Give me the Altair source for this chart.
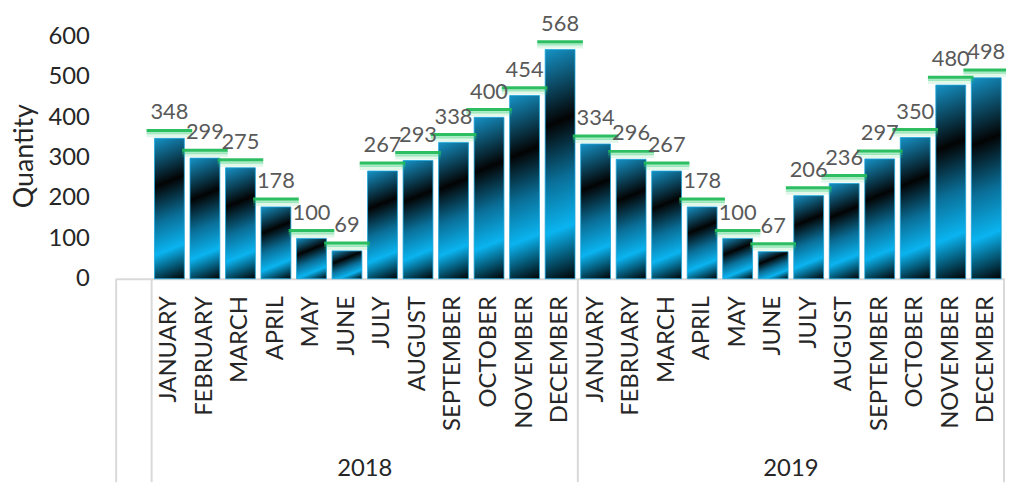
import altair as alt
import pandas as pd

# ---------------- data ----------------
months = ["JANUARY", "FEBRUARY", "MARCH", "APRIL", "MAY", "JUNE", "JULY",
          "AUGUST", "SEPTEMBER", "OCTOBER", "NOVEMBER", "DECEMBER"]
years = ["2018", "2019"]
q2018 = [348, 299, 275, 178, 100, 69, 267, 293, 338, 400, 454, 568]
q2019 = [334, 296, 267, 178, 100, 67, 206, 236, 297, 350, 480, 498]
y_ticks = [0, 100, 200, 300, 400, 500, 600]

# ---------------- layout constants ----------------
W, H = 895, 244
YMAX = 600
P_IN, P_OUT = 0.16, 0.08
FONT = "Lato"

blank = " "
keys = [blank] + [f"{y}|{m}" for y in years for m in months]
rows = []
for y, vals in zip(years, [q2018, q2019]):
    for m, v in zip(months, vals):
        rows.append({"key": f"{y}|{m}", "year": y, "month": m, "value": v})
df = pd.DataFrame(rows)

step = W / (len(keys) - P_IN + 2 * P_OUT)
bw = step * (1 - P_IN)
half_gap = step * P_IN / 2
px_per_unit = H / YMAX

xscale = alt.Scale(domain=keys, paddingInner=P_IN, paddingOuter=P_OUT)
yscale = alt.Scale(domain=[0, YMAX], nice=False)

x_axis = alt.Axis(
    title=None, labelAngle=-90, labelAlign="right", labelBaseline="middle",
    labelExpr="indexof(datum.value, '|') >= 0 ? split(datum.value, '|')[1] : ''",
    ticks=False, domainColor="#d9d9d9", domainWidth=2, labelPadding=17,
    labelFontSize=24, labelColor="#262626", labelFont=FONT,
    labelOverlap=False, labelBound=False, labelLimit=300, grid=False,
)
y_axis = alt.Axis(
    title="Quantity", values=y_ticks, grid=False, domain=False, ticks=False,
    labelPadding=27, labelFontSize=24, labelColor="#262626", labelFont=FONT,
    titleFontSize=27, titleFont=FONT, titleFontWeight="normal",
    titleColor="#262626", titleAngle=-90, titleX=-92, titleY=H / 2 - 2,
    titleAlign="center", titleBaseline="middle",
)


def X(**kw):
    return alt.X("key:N", scale=xscale, axis=x_axis, sort=keys, **kw)


Y = alt.Y("value:Q", scale=yscale, axis=y_axis)

stops = [
    {"offset": 0.0, "color": "#1592c6"},
    {"offset": 0.32, "color": "#030303"},
    {"offset": 0.56, "color": "#0a6f98"},
    {"offset": 0.77, "color": "#0ab4f0"},
    {"offset": 1.0, "color": "#000000"},
]
SLOPE = 0.4

base = alt.Chart(df)
layers = []
for i, r in df.iterrows():
    h = max(r["value"] * px_per_unit, 1)
    k = SLOPE * bw / h
    f = (k + 1) / (k * k + 1)
    grad = {"gradient": "linear", "x1": 0, "y1": 0, "x2": f * k, "y2": f,
            "stops": stops}
    layers.append(
        base.transform_filter(alt.datum.key == r["key"])
        .mark_bar(color=grad, stroke="#1aa6dc", strokeWidth=1, strokeOpacity=0.8)
        .encode(x=X(), y=Y)
    )

# green glowing callout lines above the bars
glow3 = base.mark_tick(orient="horizontal", thickness=4, size=46,
                       color="#2ecc71", opacity=0.15, yOffset=-3).encode(x=X(), y=Y)
glow2 = base.mark_tick(orient="horizontal", thickness=3, size=46,
                       color="#2ecc71", opacity=0.4, yOffset=-5.5).encode(x=X(), y=Y)
glow1 = base.mark_tick(orient="horizontal", thickness=3, size=46,
                       color="#22bb5a", opacity=0.95, yOffset=-8).encode(x=X(), y=Y)
labels = base.mark_text(dy=-19, baseline="alphabetic", fontSize=22,
                        color="#595959", font=FONT).encode(
    x=X(), y=Y, text=alt.Text("value:Q"))

# category separators (multi-level axis)
sep_df = pd.DataFrame({"key": [blank, f"{years[0]}|{months[0]}", f"{years[1]}|{months[0]}"]})
sep = alt.Chart(sep_df).mark_rule(color="#d9d9d9", strokeWidth=2, xOffset=-half_gap).encode(
    x=X(bandPosition=0), y=alt.value(H), y2=alt.value(H + 205))
end_df = pd.DataFrame({"key": [f"{years[1]}|{months[-1]}"]})
sep_end = alt.Chart(end_df).mark_rule(color="#d9d9d9", strokeWidth=2, xOffset=half_gap).encode(
    x=X(bandPosition=1), y=alt.value(H), y2=alt.value(H + 205))

year_df = pd.DataFrame({"key": [f"{y}|{months[5]}" for y in years], "year": years})
year_text = alt.Chart(year_df).mark_text(
    fontSize=24, color="#262626", font=FONT, baseline="middle", align="center",
    xOffset=half_gap).encode(
    x=X(bandPosition=1), y=alt.value(H + 192), text="year:N")

chart = alt.layer(*layers, glow3, glow2, glow1, labels, sep, sep_end, year_text).properties(
    width=W, height=H,
    background="white",
    autosize=alt.AutoSizeParams(type="none"),
    padding={"left": 109, "top": 27, "right": 2, "bottom": 205},
).configure_view(stroke="transparent", strokeWidth=0)

chart.save("out.html", embed_options={"renderer": "svg", "actions": False})
